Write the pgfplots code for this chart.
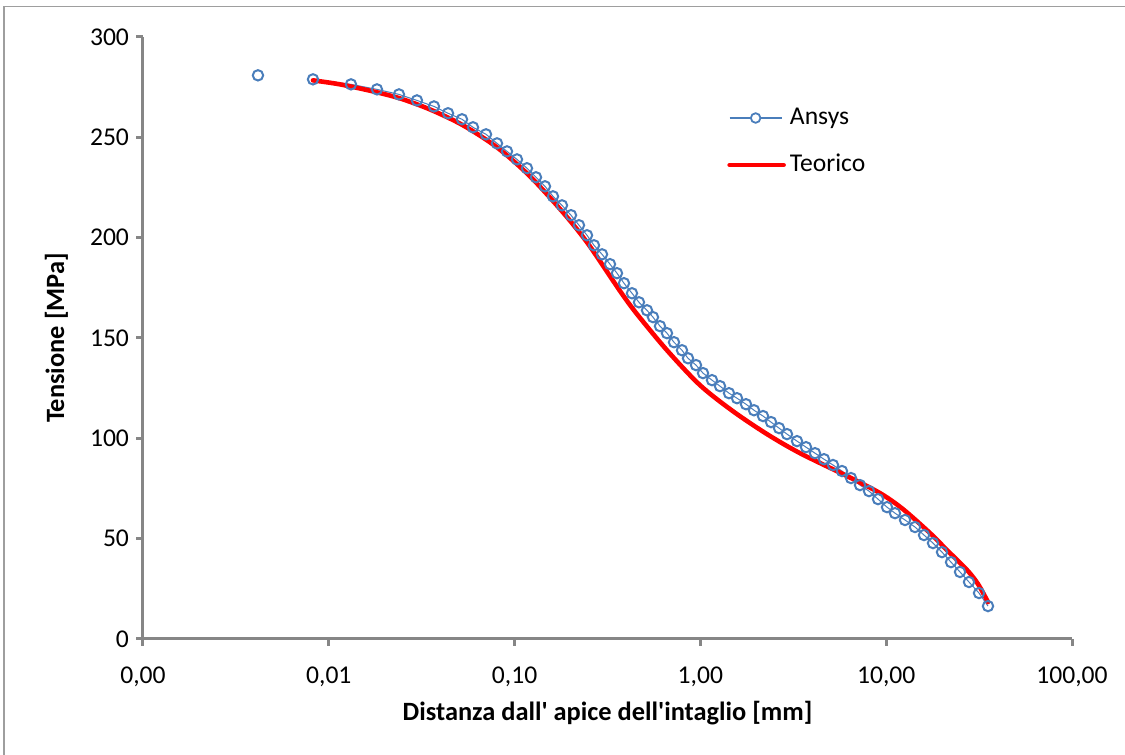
\documentclass[border=0pt]{standalone}
\usepackage{fontspec}
\setmainfont{Carlito}
\usepackage{pgfplots}
\pgfplotsset{compat=1.18}
\definecolor{ansys}{HTML}{4A7EBB}
\definecolor{axgray}{HTML}{868686}
\begin{document}
\begin{tikzpicture}
\begin{axis}[
  name=ax,
  at={(71.5pt,58pt)}, anchor=south west,
  scale only axis, width=464.5pt, height=301pt,
  xmode=log, xmin=0.001, xmax=100, ymin=0, ymax=300,
  axis x line*=bottom, axis y line*=left,
  axis line style={-, draw=axgray, line width=1.5pt},
  tick style={draw=axgray, line width=1.5pt},
  tick align=outside, major tick length=3.5pt,
  xminorticks=false, yminorticks=false,
  xtick={0.001,0.01,0.1,1,10,100},
  xticklabels={{0,00},{0,01},{0,10},{1,00},{10,00},{100,00}},
  ytick={0,50,100,150,200,250,300},
  yticklabels={0,50,100,150,200,250,300},
  /pgf/number format/assume math mode=true,
  ticklabel style={font=\fontsize{12.8}{15}\selectfont, text=black},
  xticklabel style={yshift=-7pt},
  xlabel={Distanza dall\textquotesingle{} apice dell\textquotesingle intaglio [mm]},
  ylabel={Tensione [MPa]},
  label style={font=\fontsize{13.2}{15}\selectfont\bfseries},
  xlabel style={at={(axis description cs:0.5,-0.1229)}, anchor=center},
  ylabel style={at={(axis description cs:-0.0931,0.5)}, anchor=center},
  clip=false,
  legend style={draw=none, fill=none, inner sep=0pt, outer sep=0pt,
    at={(0.629,0.8264)}, anchor=west,
    font=\fontsize{12.8}{15}\selectfont,
    nodes={text height=9pt, text depth=3pt, inner sep=2pt},
    row sep=7.5pt},
  legend cell align=left,
]
\addplot[only marks, mark=o, mark size=2.6pt, mark options={draw=ansys, line width=1pt}, forget plot]
  coordinates {(0.004158,280.9)};
\addplot[draw=ansys, line width=0.5pt, mark=o, mark size=2.6pt, mark options={draw=ansys, line width=1pt},
  legend image code/.code={
    \draw[ansys, line width=0.6pt] (0pt,0pt) -- (26pt,0pt);
    \draw[ansys, line width=0.9pt, fill=white] (13pt,0pt) circle (2.4pt);}]
  table {
x y
0.008222 278.9
0.013167 276.4
0.018170 273.9
0.023864 271.4
0.029823 268.4
0.03683 265.4
0.04383 262.0
0.05211 259.0
0.05972 255.0
0.07018 251.5
0.08042 247.0
0.09103 243.0
0.10301 239.0
0.11658 234.6
0.13036 230.1
0.14575 225.6
0.16096 220.6
0.17992 216.1
0.20119 211.2
0.22213 206.2
0.24531 201.2
0.26753 196.2
0.29547 191.7
0.32622 186.8
0.35571 182.3
0.38800 177.3
0.42836 172.3
0.46710 167.8
0.51594 163.8
0.55563 160.4
0.60606 155.9
0.66096 152.4
0.72094 147.9
0.79616 143.9
0.85759 139.9
0.94691 136.5
1.0328 132.5
1.1544 129.0
1.2751 126.0
1.4252 122.5
1.5740 120.0
1.7596 117.0
1.9430 114.0
2.1727 111.1
2.3988 108.1
2.6497 105.1
2.9249 102.1
3.3113 98.6
3.7023 95.6
4.1390 92.6
4.6270 89.6
5.1727 86.7
5.7822 83.7
6.4643 80.2
7.2277 76.7
8.0798 73.7
9.0346 69.7
10.0995 65.7
11.154 62.7
12.625 59.3
14.289 55.8
15.975 51.8
17.861 47.8
19.966 43.3
22.330 38.3
24.959 33.4
27.897 28.4
31.586 22.9
35.31 16.4
};
\addlegendentry{Ansys}
\addplot[draw=red, line width=2.3pt, smooth, line cap=round, mark=none,
  legend image code/.code={
    \draw[red, line width=2.3pt, line cap=round] (0pt,0pt) -- (27pt,0pt);}]
  table {
x y
0.008222 278.4
0.011489 276.4
0.017291 272.9
0.024160 269.4
0.035055 263.9
0.052767 256.0
0.08042 245.0
0.12102 230.6
0.18218 212.6
0.24531 197.7
0.32622 180.8
0.38320 171.3
0.45593 161.9
0.66096 143.9
0.99495 126.5
1.4977 113.5
2.2829 102.1
3.4367 92.6
6.1518 81.2
9.2601 72.7
12.315 64.7
17.206 52.8
21.246 44.3
27.220 34.4
31.20 27.4
35.31 18.4
};
\addlegendentry{Teorico}
\end{axis}
\draw[axgray!80, line width=0.6pt] (2pt,0pt) -- (2pt,374.2pt) -- (570pt,374.2pt);
\pgfresetboundingbox
\path[use as bounding box] (0,0) rectangle (562.5pt,377.5pt);
\end{tikzpicture}
\end{document}
